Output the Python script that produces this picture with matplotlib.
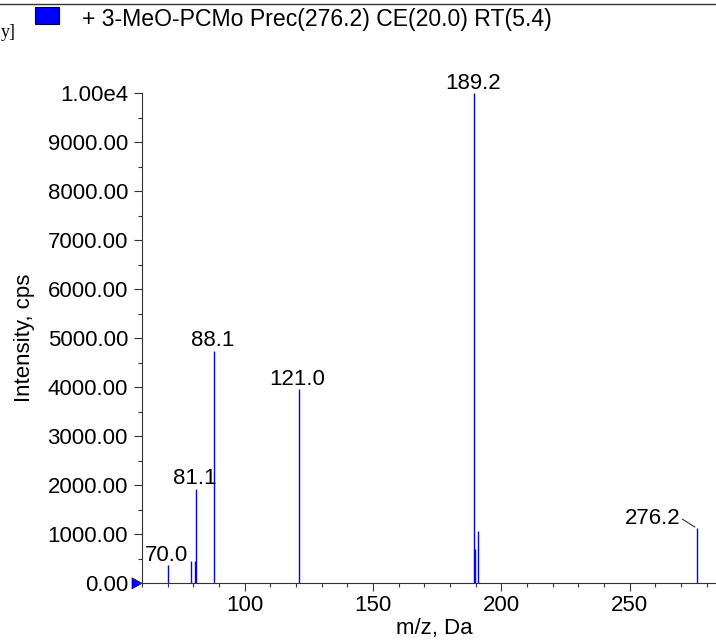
import matplotlib
matplotlib.use("Agg")
import matplotlib.pyplot as plt
from matplotlib.ticker import FixedLocator, MultipleLocator, FuncFormatter
from matplotlib.patches import Rectangle, Polygon
from matplotlib.lines import Line2D

plt.rcParams['font.family'] = ['Liberation Sans', 'DejaVu Sans']

# ---- data ----
mz = [70.0, 79.2, 80.8, 81.1, 88.1, 121.0, 189.2, 189.7, 190.7, 276.2]
intensity = [370, 455, 460, 1925, 4750, 3960, 10000, 700, 1060, 1120]
labels = {70.0: "70.0", 81.1: "81.1", 88.1: "88.1", 121.0: "121.0", 189.2: "189.2"}
label_276 = "276.2"
title = "+ 3-MeO-PCMo Prec(276.2) CE(20.0) RT(5.4)"
yticks = [0, 1000, 2000, 3000, 4000, 5000, 6000, 7000, 8000, 9000, 10000]
xticks = [100, 150, 200, 250]

W, H = 716, 641
fig = plt.figure(figsize=(W / 100, H / 100), dpi=100)
ax_l, ax_b, ax_t = 142, 583.3, 93.3
ax = fig.add_axes([ax_l / W, 1 - ax_b / H, (W - ax_l) / W, (ax_b - ax_t) / H])

blue = '#0000ff'
ax.vlines(mz, 0, intensity, colors=blue, linewidth=1.0)

ax.set_xlim(60.0, 283.6)
ax.set_ylim(0, 10000)

for s in ['top', 'right']:
    ax.spines[s].set_visible(False)
for s in ['left', 'bottom']:
    ax.spines[s].set_color('#333333')
    ax.spines[s].set_linewidth(0.8)

ax.xaxis.set_major_locator(FixedLocator(xticks))
ax.xaxis.set_minor_locator(MultipleLocator(10))
ax.yaxis.set_major_locator(FixedLocator(yticks))
ax.yaxis.set_minor_locator(MultipleLocator(500))

def yfmt(v, pos):
    if v >= 10000:
        return "1.00e4"
    return f"{v:.2f}"
ax.yaxis.set_major_formatter(FuncFormatter(yfmt))

fs = 16
ax.tick_params(axis='both', which='major', labelsize=fs, length=5.8, width=0.8, color='#333333')
ax.tick_params(axis='both', which='minor', length=2.6, width=0.8, color='#333333')
ax.tick_params(axis='y', which='major', pad=4.3)
ax.tick_params(axis='x', which='major', pad=2.5)

ax.set_ylabel("Intensity, cps", fontsize=fs)
ax.yaxis.set_label_coords(-0.1864, 0.5)
ax.set_xlabel("m/z, Da", fontsize=fs)
ax.xaxis.set_label_coords(0.5087, -0.0698)

# peak labels
for m, inten in zip(mz, intensity):
    if m in labels:
        ax.annotate(labels[m], xy=(m, inten), xytext=(-1, 4.5), textcoords='offset pixels',
                    ha='center', va='baseline', fontsize=fs, annotation_clip=False)
ax.annotate(label_276, xy=(276.2, 1120), xytext=(-16.3, 4.3), textcoords='offset pixels',
            ha='right', va='baseline', fontsize=fs)
ax.annotate('', xy=(276.2, 1120), xytext=(-14.7, 9.3), textcoords='offset pixels',
            arrowprops=dict(arrowstyle='-', color='#333333', lw=0.8, shrinkA=0, shrinkB=1.8))

# blue triangle marker at zero
aw = W - ax_l
ah = ax_b - ax_t
tri = Polygon([[-10.0 / aw, -5.5 / ah], [0, 0], [-10.0 / aw, 5.5 / ah]], closed=True,
              transform=ax.transAxes, clip_on=False, facecolor=blue, edgecolor='#000080', lw=0.5)
ax.add_patch(tri)

# header
fig.add_artist(Line2D([0, 1], [1 - 4 / H, 1 - 4 / H], transform=fig.transFigure,
                      color='#333333', lw=1.0))
fig.add_artist(Rectangle((35 / W, 1 - 24 / H), 24 / W, 17 / H, transform=fig.transFigure,
                         facecolor=blue, edgecolor='#000040', lw=0.8))
fig.text(81.7 / W, 1 - 26 / H, title, fontsize=16.6, ha='left', va='baseline')
fig.text(1 / W, 1 - 37 / H, "y]", fontsize=13, family=['Liberation Serif'],
         ha='left', va='baseline')

fig.savefig("out.png", dpi=100)
